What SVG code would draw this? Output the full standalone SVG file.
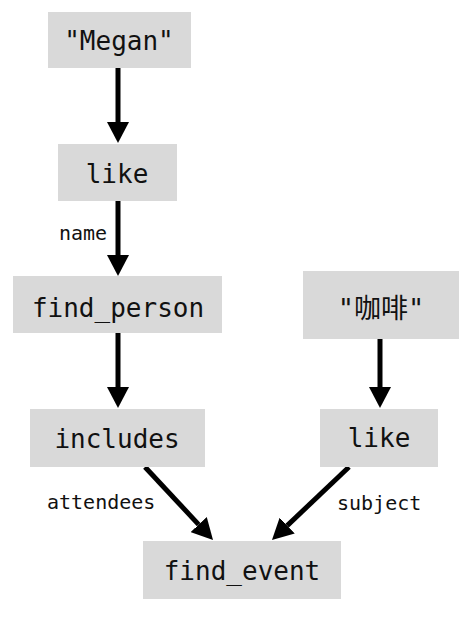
<svg xmlns="http://www.w3.org/2000/svg" width="473" height="618" viewBox="0 0 473 618">
<style>
.box{fill:#d9d9d9}
.t{font-family:"DejaVu Sans Mono","Noto Sans CJK SC",monospace;font-size:26px;fill:#111;text-anchor:middle}
.cjk{font-size:27px}
.lbl{font-family:"DejaVu Sans Mono",monospace;font-size:20px;fill:#111}
.e{stroke:#000;stroke-width:5;fill:none;marker-end:url(#ah)}
</style>
<defs>
<marker id="ah" markerUnits="userSpaceOnUse" viewBox="0 -11 21 22" refX="0" refY="0" markerWidth="21" markerHeight="22" orient="auto">
<path d="M0,-11 L21,0 L0,11 z" fill="#000"/>
</marker>
</defs>
<rect width="473" height="618" fill="#fff"/>
<g id="connectors">
<line class="e" x1="118" y1="68" x2="118" y2="122"/>
<line class="e" x1="118" y1="201" x2="118" y2="255"/>
<line class="e" x1="118" y1="333" x2="118" y2="387"/>
<line class="e" x1="380" y1="339" x2="380" y2="387"/>
<line class="e" x1="145" y1="467" x2="198.7" y2="524.6"/>
<line class="e" x1="349" y1="467" x2="287.2" y2="525.6"/>
<text class="lbl" x="59" y="240">name</text>
<text class="lbl" x="47" y="509">attendees</text>
<text class="lbl" x="337" y="510">subject</text>
</g>
<g id="n_megan"><rect class="box" x="48" y="12" width="143" height="56"/><text class="t" x="119" y="50">"Megan"</text></g>
<g id="n_like1"><rect class="box" x="58" y="144" width="119" height="57"/><text class="t" x="117" y="183">like</text></g>
<g id="n_find_person"><rect class="box" x="13" y="276" width="209" height="57"/><text class="t" x="118" y="317">find_person</text></g>
<g id="n_coffee"><rect class="box" x="303" y="271" width="156" height="68"/><text class="t cjk" x="381" y="318">"咖啡"</text></g>
<g id="n_includes"><rect class="box" x="30" y="409" width="175" height="58"/><text class="t" x="117" y="448">includes</text></g>
<g id="n_like2"><rect class="box" x="320" y="409" width="118" height="58"/><text class="t" x="379" y="447">like</text></g>
<g id="n_find_event"><rect class="box" x="143" y="541" width="198" height="58"/><text class="t" x="242" y="580">find_event</text></g>
</svg>
